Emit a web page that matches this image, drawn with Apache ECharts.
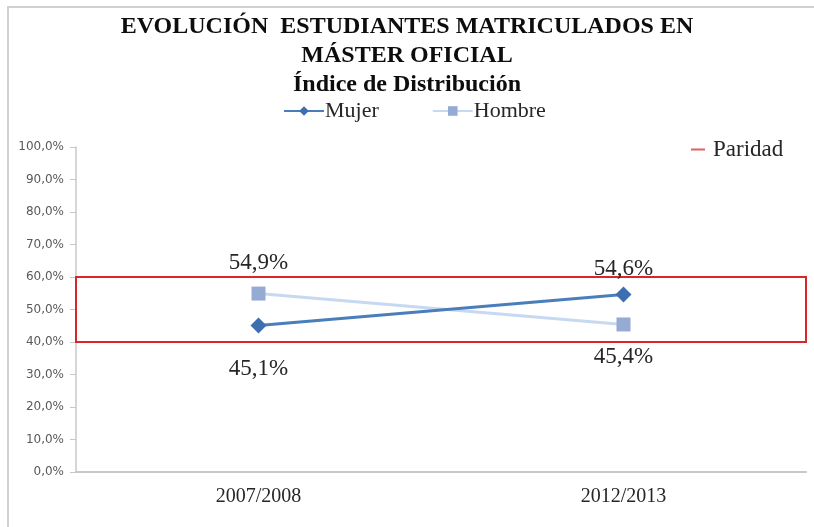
<!DOCTYPE html>
<html>
<head>
<meta charset="utf-8">
<script src="https://cdn.jsdelivr.net/npm/echarts@6/dist/echarts.min.js"></script>
<style>
  html, body { margin: 0; padding: 0; background: #fff; }
  #chart { width: 814px; height: 527px; }
</style>
</head>
<body>
<div id="chart"></div>
<script>
// Course years and the share of enrolled students by sex (percent)
const categories = ['2007/2008', '2012/2013'];
const mujer = [45.1, 54.6];
const hombre = [54.9, 45.4];
// Parity band bounds (percent)
const paridad = [40, 60];
const yTicks = [0, 10, 20, 30, 40, 50, 60, 70, 80, 90, 100];

const fmt = v => v.toFixed(1).replace('.', ',') + '%';
const serif = '"Liberation Serif", "Times New Roman", serif';

const chart = echarts.init(document.getElementById('chart'));

const labelStyle = (pos, dist) => ({
  show: true, position: pos, distance: dist,
  fontFamily: serif, fontSize: 23, color: '#262626',
  formatter: p => fmt(p.value)
});

chart.setOption({
  animation: false,
  backgroundColor: '#fff',
  title: {
    text: 'EVOLUCIÓN  ESTUDIANTES MATRICULADOS EN\nMÁSTER OFICIAL\nÍndice de Distribución',
    left: 'center', top: 12, padding: 0,
    textStyle: {
      fontFamily: serif, fontWeight: 'bold', fontSize: 24, lineHeight: 29, color: '#0d0d0d'
    }
  },
  legend: [{
    data: ['Mujer', 'Hombre'],
    top: 100, left: 283, padding: 0,
    itemGap: 53, itemWidth: 40, itemHeight: 12,
    textStyle: { fontFamily: serif, fontSize: 22, color: '#262626', padding: [0, 0, 0, -4] }
  }, {
    data: ['Paridad'],
    top: 138, left: 691, padding: 0,
    itemWidth: 14, itemHeight: 2,
    icon: 'rect',
    textStyle: { fontFamily: serif, fontSize: 23, color: '#262626', padding: [0, 0, 0, 3] }
  }],
  grid: { left: 76, right: 8, top: 147, bottom: 55 },
  xAxis: {
    type: 'category', data: categories, boundaryGap: true,
    axisLine: { lineStyle: { color: '#c8c8c8', width: 2 } },
    axisTick: { show: false },
    axisLabel: { fontFamily: serif, fontSize: 20, color: '#262626', margin: 15 }
  },
  yAxis: {
    type: 'value', min: 0, max: 100, interval: 10,
    axisLine: { show: true, lineStyle: { color: '#c8c8c8', width: 1.5 } },
    axisTick: { show: true, length: 6, lineStyle: { color: '#c8c8c8' } },
    splitLine: { show: false },
    axisLabel: {
      fontFamily: '"DejaVu Sans", sans-serif', fontSize: 12, color: '#595959', margin: 12,
      formatter: v => yTicks.includes(v) ? fmt(v) : ''
    }
  },
  series: [{
    name: 'Mujer', type: 'line',
    data: [
      { value: mujer[0], label: labelStyle('bottom', 24) },
      { value: mujer[1], label: labelStyle('top', 6) }
    ],
    symbol: 'diamond', symbolSize: 16,
    lineStyle: { color: '#4a7ebb', width: 3 },
    itemStyle: { color: '#3d6eaf' },
    z: 3
  }, {
    name: 'Hombre', type: 'line',
    data: [
      { value: hombre[0], label: labelStyle('top', 12) },
      { value: hombre[1], label: labelStyle('bottom', 14) }
    ],
    symbol: 'rect', symbolSize: 14,
    lineStyle: { color: '#c6d9f1', width: 3 },
    itemStyle: { color: '#95abd4' },
    z: 2
  }, {
    name: 'Paridad', type: 'line', data: [],
    itemStyle: { color: '#e06060' },
    lineStyle: { color: '#e06060' },
    markArea: {
      silent: true,
      itemStyle: { color: 'rgba(0,0,0,0)', borderColor: '#d9262b', borderWidth: 2 },
      data: [[{ yAxis: paridad[0] }, { yAxis: paridad[1] }]]
    }
  }],
  graphic: [{
    type: 'rect', silent: true,
    shape: { x: 8, y: 7, width: 900, height: 600 },
    style: { fill: 'none', stroke: '#d0d0d0', lineWidth: 2 },
    z: -1
  }]
});
</script>
</body>
</html>
